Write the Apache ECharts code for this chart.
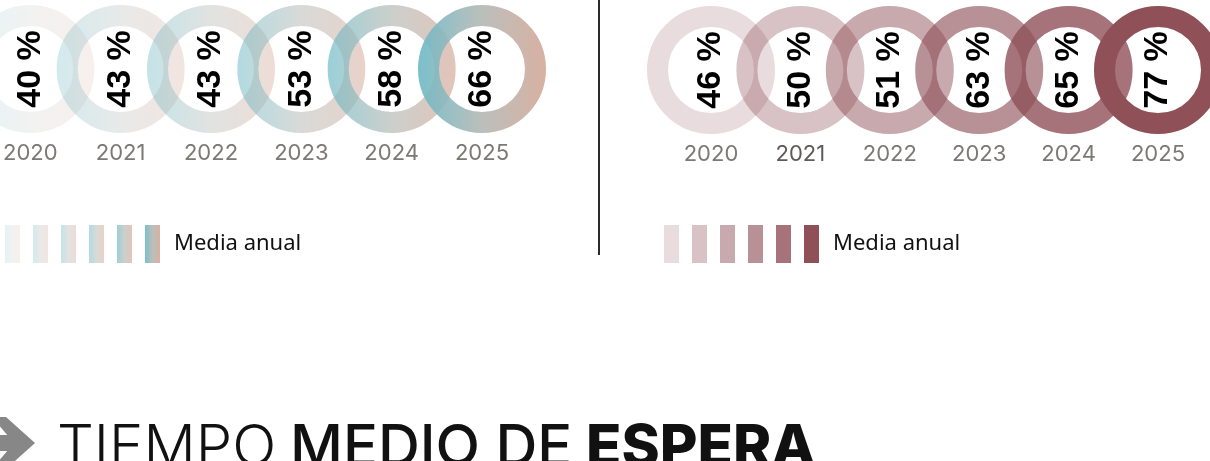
<!DOCTYPE html>
<html>
<head>
<meta charset="utf-8">
<script src="https://cdn.jsdelivr.net/npm/echarts@6.0.0/dist/echarts.min.js"></script>
<style>
  html, body { margin: 0; padding: 0; background: #fff; }
  #chart { width: 1210px; height: 461px; }
</style>
</head>
<body>
<div id="chart"></div>
<script>
// datos
var years = ['2020', '2021', '2022', '2023', '2024', '2025'];
var leftValues = [40, 43, 43, 53, 58, 66];
var rightValues = [46, 50, 51, 63, 65, 77];
var legendText = 'Media anual';
var titleLight = 'TIEMPO';
var titleMedium = 'MEDIO DE';
var titleBold = 'ESPERA';

// estilos
var leftAlpha = [0.18, 0.3, 0.4, 0.52, 0.68, 0.9];
var rightAlpha = [0.2, 0.35, 0.49, 0.63, 0.8, 1];

function leftColor(i) {
  var a = leftAlpha[i];
  return new echarts.graphic.LinearGradient(0, 0, 1, 0, [
    { offset: 0, color: 'rgba(108,185,197,' + a + ')' },
    { offset: 0.5, color: 'rgba(180,184,180,' + a + ')' },
    { offset: 1, color: 'rgba(212,168,152,' + a + ')' }
  ]);
}
function rightColor(i) {
  return 'rgba(143,80,88,' + rightAlpha[i] + ')';
}

var chart = echarts.init(document.getElementById('chart'), null, { renderer: 'canvas' });

function ringSeries(side, idx, values, colorFn) {
  return years.map(function (y, i) {
    return {
      name: side + ' ' + y,
      type: 'scatter',
      xAxisIndex: idx,
      yAxisIndex: idx,
      data: [[i, 0, values[i]]],
      symbol: 'circle',
      symbolSize: 107,
      clip: false,
      silent: true,
      itemStyle: {
        opacity: 1,
        color: 'rgba(0,0,0,0)',
        borderColor: colorFn(i),
        borderWidth: 21
      },
      label: {
        show: true,
        position: 'inside',
        rotate: 90,
        formatter: function (p) { return p.value[2] + ' %'; },
        color: '#000',
        fontFamily: 'Liberation Sans',
        fontWeight: 'bold',
        fontSize: 34
      }
    };
  });
}

function legendFor(side, x, colorFn) {
  return {
    left: x,
    top: 225,
    orient: 'horizontal',
    icon: 'rect',
    itemWidth: 15,
    itemHeight: 38,
    itemGap: 13,
    padding: 0,
    selectedMode: false,
    data: years.map(function (y, i) {
      return { name: side + ' ' + y, itemStyle: { color: colorFn(i), borderWidth: 0, opacity: 1 } };
    }),
    formatter: function (name) {
      return name === side + ' 2025' ? '{m|' + legendText + '}' : '';
    },
    textStyle: {
      rich: {
        m: { fontFamily: 'Noto Sans', fontSize: 22, color: '#111', padding: [0, 0, 0, 9] }
      }
    }
  };
}

function xAxisFor(idx) {
  return {
    gridIndex: idx,
    type: 'category',
    data: years.map(function (y) {
      return idx === 1 && y === '2021' ? { value: y, textStyle: { color: '#5e5a58' } } : y;
    }),
    boundaryGap: false,
    axisLine: { show: false },
    axisTick: { show: false },
    splitLine: { show: false },
    axisLabel: {
      interval: 0,
      margin: 4,
      color: '#7c7876',
      fontFamily: 'Inter',
      fontSize: 22
    }
  };
}

var option = {
  backgroundColor: '#fff',
  animation: false,
  title: {
    left: 57,
    top: 420,
    padding: 0,
    text: '{l|' + titleLight + '} {m|' + titleMedium + '} {b|' + titleBold + '}',
    textStyle: {
      fontFamily: 'Inter',
      fontSize: 58,
      rich: {
        l: { fontFamily: 'Inter', fontSize: 58, fontWeight: 300, color: '#111' },
        m: { fontFamily: 'Inter', fontSize: 58, fontWeight: 500, color: '#111' },
        b: { fontFamily: 'Inter', fontSize: 58, fontWeight: 800, color: '#111' }
      }
    }
  },
  grid: [
    { left: 30, width: 452, top: 0, height: 138 },
    { left: 711, width: 447, top: 1, height: 138 }
  ],
  xAxis: [xAxisFor(0), xAxisFor(1)],
  yAxis: [
    { gridIndex: 0, type: 'category', data: ['fila'], show: false },
    { gridIndex: 1, type: 'category', data: ['fila'], show: false }
  ],
  legend: [legendFor('izq', 5, leftColor), legendFor('der', 664, rightColor)],
  graphic: [
    {
      type: 'line',
      shape: { x1: 599, y1: 0, x2: 599, y2: 255 },
      style: { stroke: '#2b2b2b', lineWidth: 2 },
      silent: true
    },
    {
      type: 'polygon',
      shape: { points: [[-8, 417], [6, 417], [35, 443], [6, 469], [-8, 469], [14, 443]] },
      style: { fill: '#878787' },
      silent: true
    },
    {
      type: 'rect',
      shape: { x: 0, y: 435, width: 20, height: 16 },
      style: { fill: '#878787' },
      silent: true
    }
  ],
  series: ringSeries('izq', 0, leftValues, leftColor).concat(ringSeries('der', 1, rightValues, rightColor))
};

chart.setOption(option);
</script>
</body>
</html>
